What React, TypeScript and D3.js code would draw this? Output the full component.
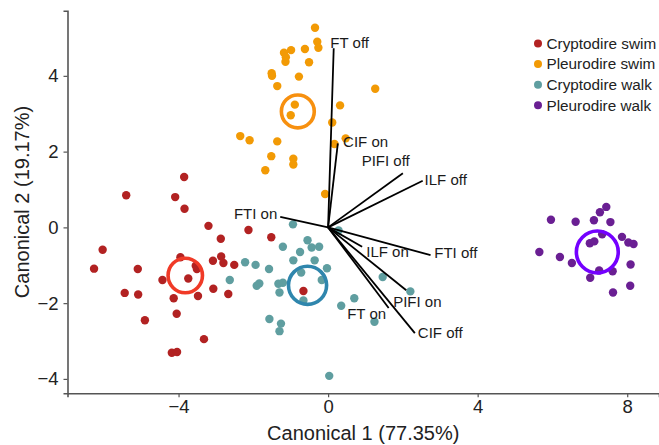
import React, { useEffect, useRef } from 'react';
import * as d3 from 'd3';

const groups = ['Cryptodire swim', 'Pleurodire swim', 'Cryptodire walk', 'Pleurodire walk'];
const pointColors = ['#b22222', '#f29a05', '#5f9ea0', '#6a1f93'];
const centroidColors = ['#f03a27', '#f7900f', '#2f86ad', '#7400ff'];

const cryptoSwimX = [-5.40, -4.09, -3.84, -3.85, -3.20, -2.13, -1.52, -2.87, -6.03, -3.95, -2.86, -3.08, -2.80, -2.51, -3.54, -3.51, -6.26, -5.09, -3.74, -4.43, -3.07, -5.44, -5.08, -2.67, -3.48, -4.13, -0.66, -4.05, -4.90, -3.32, -4.18, -4.04];
const cryptoSwimY = [0.85, 0.80, 0.49, 1.33, 0.04, -0.07, -0.26, -0.30, -0.59, -0.79, -0.77, -0.88, -0.94, -0.99, -1.01, -1.10, -1.09, -1.10, -1.35, -1.39, -1.62, -1.73, -1.77, -1.76, -1.81, -1.87, -1.68, -2.28, -2.45, -2.95, -3.31, -3.29];

const pleuroSwimX = [-0.35, -0.29, -0.26, -0.62, -0.99, -1.18, -1.13, -1.14, -0.51, -1.51, -1.50, -0.78, -1.36, -0.89, -1.00, -2.35, -2.10, -1.36, -1.52, -0.93, -0.93, -1.68, -0.08, 1.26, 0.32, 0.11, 0.47, 0.17];
const pleuroSwimY = [5.27, 4.90, 4.74, 4.71, 4.68, 4.61, 4.49, 4.37, 4.36, 4.07, 4.00, 3.98, 3.73, 3.24, 2.96, 2.41, 2.30, 2.27, 1.88, 1.81, 1.66, 1.51, 0.88, 3.66, 3.22, 2.77, 2.35, 2.20];

const cryptoWalkX = [-0.94, -0.55, -0.44, -0.24, -0.75, -0.93, -0.36, -2.22, -1.94, -1.58, -0.72, -0.03, -2.63, -1.21, -1.84, -1.91, -1.33, -0.17, -1.30, -0.66, -1.57, -1.26, -1.30, 0.03, -1.21, 0.28, 1.46, 2.20, 0.70, 0.35, 1.24];
const cryptoWalkY = [0.08, -0.34, -0.53, -0.51, -0.65, -0.87, -0.87, -0.92, -0.99, -1.10, -1.19, -1.08, -1.39, -1.46, -1.48, -1.54, -1.49, -1.39, -1.72, -1.93, -2.42, -2.54, -2.74, -3.92, -0.51, -0.08, -1.31, -1.69, -1.87, -2.07, -2.49];

const pleuroWalkX = [7.44, 7.27, 5.96, 6.62, 7.11, 7.55, 7.33, 7.86, 7.00, 7.12, 8.03, 8.17, 5.65, 6.20, 6.52, 8.09, 7.25, 7.61, 7.01, 8.08, 7.62];
const pleuroWalkY = [0.54, 0.40, 0.20, 0.15, 0.19, 0.14, -0.18, -0.25, -0.42, -0.37, -0.40, -0.44, -0.65, -0.78, -0.94, -0.98, -1.14, -1.16, -1.33, -1.54, -1.72];

// group centroids and circle radius (data units along x)
const centroidX = [-3.82, -0.81, -0.55, 7.20];
const centroidY = [-1.27, 3.06, -1.53, -0.65];
const centroidR = [0.46, 0.44, 0.51, 0.56];

// structure vectors
const vectorNames = ['FT off', 'CIF on', 'PIFI off', 'ILF off', 'FTI on', 'ILF on', 'FTI off', 'PIFI on', 'FT on', 'CIF off'];
const vectorX = [0.15, 0.26, 2.00, 2.53, -1.28, 0.91, 2.74, 2.09, 1.62, 2.32];
const vectorY = [4.73, 2.22, 1.43, 1.23, 0.28, -0.51, -0.73, -1.66, -2.13, -2.79];
const labelX = [0.06, 0.40, 1.54, 2.58, -1.36, 1.02, 2.84, 1.74, 1.03, 2.40];
const labelY = [4.88, 2.26, 1.75, 1.25, 0.35, -0.65, -0.67, -1.97, -2.28, -2.79];
const labelAnchor = ['start', 'start', 'middle', 'start', 'end', 'start', 'start', 'start', 'middle', 'start'];

const xTicks = [-4, 0, 4, 8];
const yTicks = [-4, -2, 0, 2, 4];

const App = () => {
  const svgRef = useRef<SVGSVGElement>(null);

  useEffect(() => {
    const width = 659;
    const height = 445;
    const svg = d3.select(svgRef.current);
    svg.selectAll('*').remove();
    svg.attr('width', width).attr('height', height);

    const font = '"Liberation Sans", Arial, sans-serif';
    const x = d3.scaleLinear().domain([-6.97, 8.85]).range([67.5, 659]);
    const y = d3.scaleLinear().domain([-4.38, 5.72]).range([393.3, 10.7]);

    const series = [
      [cryptoSwimX, cryptoSwimY],
      [pleuroSwimX, pleuroSwimY],
      [cryptoWalkX, cryptoWalkY],
      [pleuroWalkX, pleuroWalkY],
    ];

    const pts = svg.append('g');
    series.forEach(([xs, ys], gi) => {
      pts.selectAll(`.p${gi}`)
        .data(xs.map((v, i) => [v, ys[i]]))
        .enter().append('circle')
        .attr('cx', d => x(d[0]))
        .attr('cy', d => y(d[1]))
        .attr('r', 4.2)
        .attr('fill', pointColors[gi]);
    });

    svg.append('g').selectAll('circle')
      .data(centroidX.map((v, i) => ({ x: v, y: centroidY[i], r: centroidR[i], c: centroidColors[i] })))
      .enter().append('circle')
      .attr('cx', d => x(d.x))
      .attr('cy', d => y(d.y))
      .attr('r', d => x(d.r) - x(0))
      .attr('fill', 'none')
      .attr('stroke', d => d.c)
      .attr('stroke-width', 3.6);

    const vec = svg.append('g');
    vec.selectAll('line')
      .data(vectorNames.map((n, i) => ({ n, x: vectorX[i], y: vectorY[i] })))
      .enter().append('line')
      .attr('x1', x(0)).attr('y1', y(0))
      .attr('x2', d => x(d.x)).attr('y2', d => y(d.y))
      .attr('stroke', '#000')
      .attr('stroke-width', 1.8);
    vec.selectAll('text')
      .data(vectorNames.map((n, i) => ({ n, x: labelX[i], y: labelY[i], a: labelAnchor[i] })))
      .enter().append('text')
      .attr('x', d => x(d.x))
      .attr('y', d => y(d.y))
      .attr('dy', '0.35em')
      .attr('text-anchor', d => d.a)
      .attr('font-family', font)
      .attr('font-size', 15)
      .attr('fill', '#1a1a1a')
      .text(d => d.n);

    // axes
    const axisColor = '#555';
    const fmt = (d: any) => d3.format('')(d as number).replace('-', '\u2212');
    const xAxis = svg.append('g')
      .attr('transform', `translate(0, ${y(-4.38)})`)
      .call(d3.axisBottom(x).tickValues(xTicks).tickSize(4).tickPadding(3).tickFormat(fmt));
    xAxis.select('.domain').attr('stroke', axisColor).attr('stroke-width', 1.6);
    xAxis.selectAll('.tick line').attr('stroke', axisColor).attr('stroke-width', 1.2);
    xAxis.selectAll('text').attr('font-family', font).attr('font-size', 18.5).attr('fill', '#222');

    const yAxis = svg.append('g')
      .attr('transform', `translate(${x(-6.97)}, 0)`)
      .call(d3.axisLeft(y).tickValues(yTicks).tickSize(4).tickPadding(5).tickFormat(fmt));
    yAxis.select('.domain').attr('stroke', axisColor).attr('stroke-width', 1.6);
    yAxis.selectAll('.tick line').attr('stroke', axisColor).attr('stroke-width', 1.2);
    yAxis.selectAll('text').attr('font-family', font).attr('font-size', 18.5).attr('fill', '#222');

    svg.append('text')
      .attr('x', (67.5 + 659) / 2)
      .attr('y', 440)
      .attr('text-anchor', 'middle')
      .attr('font-family', font)
      .attr('font-size', 20)
      .attr('fill', '#222')
      .text('Canonical 1 (77.35%)');

    svg.append('text')
      .attr('transform', `translate(29, ${(10.7 + 393.3) / 2}) rotate(-90)`)
      .attr('text-anchor', 'middle')
      .attr('font-family', font)
      .attr('font-size', 20)
      .attr('fill', '#222')
      .text('Canonical 2 (19.17%)');

    // legend
    const legend = svg.append('g').attr('transform', 'translate(538, 43.5)');
    groups.forEach((g, i) => {
      const row = legend.append('g').attr('transform', `translate(0, ${i * 20.6})`);
      row.append('circle').attr('r', 4).attr('fill', pointColors[i]);
      row.append('text')
        .attr('x', 8.5)
        .attr('dy', '0.35em')
        .attr('font-family', font)
        .attr('font-size', 15.3)
        .attr('fill', '#222')
        .text(g);
    });
  }, []);

  return (
    <svg ref={svgRef} style={{ position: 'absolute', left: 0, top: 0 }}></svg>
  );
};

export default App;
